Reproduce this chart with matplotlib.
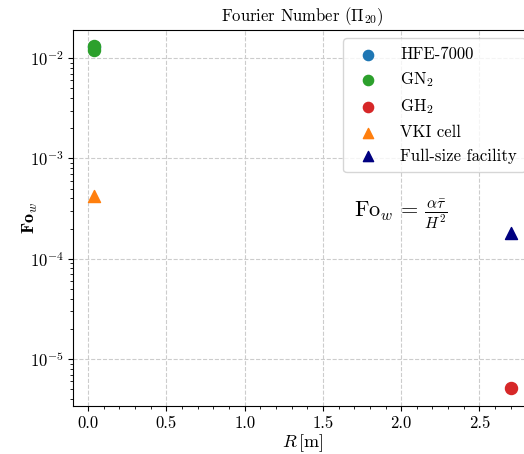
import matplotlib
matplotlib.use("Agg")
import matplotlib.pyplot as plt
import matplotlib.ticker as mticker

plt.rcParams['font.family'] = 'serif'
plt.rcParams['font.serif'] = ['cmr10', 'DejaVu Serif']
plt.rcParams['mathtext.fontset'] = 'cm'
plt.rcParams['axes.unicode_minus'] = False
plt.rcParams['axes.formatter.use_mathtext'] = True

# data
labels = ["HFE-7000", r"GN$_2$", r"GH$_2$", "VKI cell", "Full-size facility"]
markers = ["o", "o", "o", "^", "^"]
colors = ["#1f77b4", "#2ca02c", "#d62728", "#ff7f0e", "navy"]
R_values = [[0.038], [0.038, 0.038], [2.70], [0.038], [2.70]]
Fo_values = [[0.0128], [0.0131, 0.0122], [5.1e-6], [4.2e-4], [1.8e-4]]

fig = plt.figure(figsize=(5.24, 4.54), dpi=100)
ax = fig.add_axes([0.14, 0.1057, 0.8745, 0.8283])

for lab, mk, c, xs, ys in zip(labels, markers, colors, R_values, Fo_values):
    ax.scatter(xs, ys, marker=mk, color=c, s=75, label=lab, zorder=3)

ax.set_yscale('log')
ax.set_xlim(-0.094, 2.833)
ax.set_ylim(10**-5.469, 10**-1.718)
ax.xaxis.set_major_locator(mticker.MultipleLocator(0.5))
ax.xaxis.set_major_formatter(mticker.FormatStrFormatter('%.1f'))
ax.xaxis.set_minor_locator(mticker.AutoMinorLocator(5))
ax.yaxis.set_minor_locator(mticker.LogLocator(base=10, subs=range(2, 10), numticks=20))
ax.yaxis.set_minor_formatter(mticker.NullFormatter())
ax.grid(True, which='major', linestyle='--', color='#cccccc', linewidth=0.8)
ax.tick_params(labelsize=12)
ax.tick_params(which='minor', length=2.5)

ax.set_title(r"Fourier Number ($\Pi_{20}$)", fontsize=12)
ax.set_xlabel(r"$R\,[\mathrm{m}]$", fontsize=13, labelpad=1)
ax.set_ylabel(r"$\mathbf{Fo}_w$", fontsize=13)
ax.yaxis.set_label_coords(-0.072, 0.5)

ax.text(1.70, 2.8e-4, r"$\mathrm{Fo}_w\,=\,\frac{\alpha\bar{\tau}}{H^2}$", fontsize=16,
        va='center', ha='left')

ax.legend(loc='upper right', fontsize=12, bbox_to_anchor=(1.004, 1.0),
          labelspacing=0.5, markerscale=0.85, handletextpad=0.9, borderpad=0.5)

fig.savefig("out.png", dpi=100)
